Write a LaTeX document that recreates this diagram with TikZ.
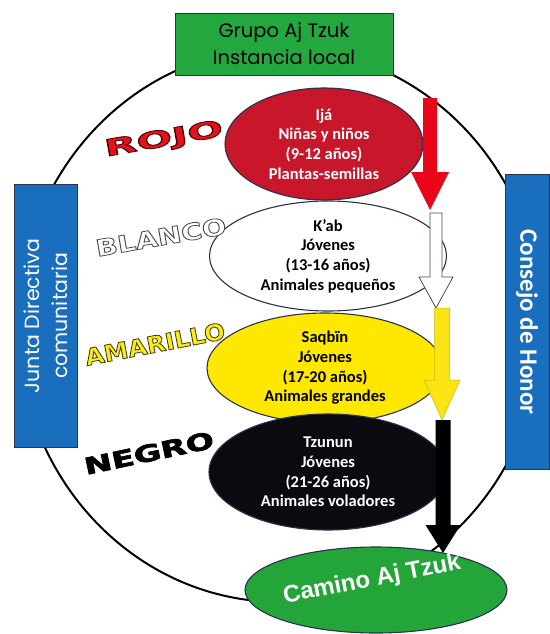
\documentclass[tikz,border=0pt]{standalone}
\usepackage{fontspec}
\setmainfont{Carlito}
\newfontfamily\comicf{Poppins}
\newfontfamily\heavyf{Liberation Sans}
\newfontfamily\wordf{DejaVu Sans}
\usepackage{graphicx}
\usetikzlibrary{shapes.geometric}

\definecolor{topgreen}{RGB}{34,168,62}
\definecolor{botgreen}{RGB}{36,165,58}
\definecolor{boxblue}{RGB}{26,110,190}
\definecolor{edgeblue}{RGB}{40,50,80}
\definecolor{ellred}{RGB}{200,22,42}
\definecolor{arrred}{RGB}{232,6,24}
\definecolor{ellyellow}{RGB}{255,232,0}
\definecolor{arryellow}{RGB}{250,228,20}
\definecolor{ellblack}{RGB}{10,10,16}
\definecolor{lblred}{RGB}{226,18,30}
\definecolor{lblyellow}{RGB}{250,236,20}

\newcommand{\blockarrow}[7]{%
  \draw[#1] (#2-#6,#3) -- (#2+#6,#3) -- (#2+#6,#4) -- (#2+#7,#4) -- (#2,#5)
    -- (#2-#7,#4) -- (#2-#6,#4) -- cycle;}

% outlined text: fill colour set by \color, stroke via PDF text render mode 2
\newcommand{\strokedtext}[3]{% stroke rgb, stroke width, text
  \special{pdf:literal direct 2 Tr #2 w #1 RG}#3\special{pdf:literal direct 0 Tr}}

\newcommand{\wordart}[5]{% width, fill colour, stroke rgb, stroke width, text
  \resizebox{#1}{\height}{\wordf\bfseries\fontsize{23}{23}\selectfont
    \color{#2}\strokedtext{#3}{#4}{#5}}}

\begin{document}
\begin{tikzpicture}[x=1pt,y=-1pt,
  stage/.style={ellipse,draw=edgeblue,line width=1.1pt,inner sep=0pt,align=center,
    font=\bfseries\fontsize{16.5}{19.6}\selectfont},
  sidebox/.style={draw=edgeblue,line width=0.8pt,fill=boxblue,text=white,inner sep=0pt,align=center},
  colourlabel/.style={inner sep=0pt}]
\useasboundingbox (0,0) rectangle (549,634);

% big ring
\node[ellipse,draw=black,line width=2pt,minimum width=524pt,minimum height=554pt,inner sep=0pt] (ring) at (280,325) {};

% top box
\node[draw=black!80,line width=0.8pt,fill=topgreen,minimum width=218pt,minimum height=62pt,
  inner sep=0pt,align=center,font=\comicf\fontsize{19.5}{27}\selectfont] (grupo) at (284,44)
  {Grupo Aj Tzuk\\Instancia local};

% side boxes
\node[sidebox,minimum width=263pt,minimum height=63pt,rotate=90,
  font=\comicf\fontsize{20.5}{28}\selectfont] (junta) at (45.5,316)
  {Junta Directiva\\comunitaria};
\node[sidebox,minimum width=295pt,minimum height=44pt,rotate=-90,
  font=\bfseries\fontsize{25}{25}\selectfont] (consejo) at (527,322)
  {Consejo de Honor};

% stages
\node[stage,fill=ellred,text=white,minimum width=198pt,minimum height=112pt] (roja) at (324,144)
  {Ijá\\Niñas y niños\\(9-12 años)\\Plantas-semillas};
\node[stage,fill=white,text=black,minimum width=237pt,minimum height=110pt] (blanca) at (328,256)
  {K’ab\\Jóvenes\\(13-16 años)\\Animales pequeños};
\node[stage,fill=ellyellow,text=black,minimum width=236pt,minimum height=110pt] (amarilla) at (325,368)
  {Saqbïn\\Jóvenes\\(17-20 años)\\Animales grandes};
\node[stage,fill=ellblack,text=white,minimum width=238pt,minimum height=116pt] (negra) at (328,472)
  {Tzunun\\Jóvenes\\(21-26 años)\\Animales voladores};

% colour labels
\node[colourlabel,rotate=10] (rojo) at (164,140) {\wordart{120pt}{lblred}{0.3 0 0}{0.8}{ROJO}};
\node[colourlabel,rotate=10] (blanco) at (161,237) {\wordart{132pt}{white}{0.3 0.3 0.3}{0.8}{BLANCO}};
\node[colourlabel,rotate=11] (amarillo) at (155,344) {\wordart{142pt}{lblyellow}{0.25 0.22 0}{0.8}{AMARILLO}};
\node[colourlabel,rotate=12] (negro) at (149,453) {\wordart{132pt}{black}{0 0 0}{0.6}{NEGRO}};

% arrows
\blockarrow{fill=arrred,draw=none}{430}{98}{172}{210}{7}{19}
\blockarrow{fill=white,draw=black!70,line width=0.8pt}{436}{213}{277}{308}{6}{17}
\blockarrow{fill=arryellow,draw=arryellow!80!black,line width=0.5pt}{442}{308}{380}{420}{7.5}{18}
\blockarrow{fill=black,draw=none}{443}{420}{525}{553}{7.5}{17.5}

% path end
\node[ellipse,draw=edgeblue,line width=1.1pt,fill=botgreen,minimum width=262pt,minimum height=86pt,inner sep=0pt] (camino) at (376,590) {};
\node[rotate=11,inner sep=0pt,text=white,font=\heavyf\bfseries\fontsize{24}{24}\selectfont] (caminotxt) at (372,580)
  {Camino Aj Tzuk};
\end{tikzpicture}
\end{document}
